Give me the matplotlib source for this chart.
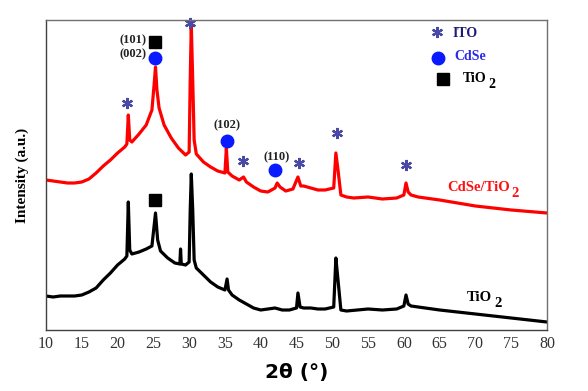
import matplotlib
matplotlib.use("Agg")
import matplotlib.pyplot as plt
from matplotlib.transforms import offset_copy

# ---- data (2theta in degrees, intensity in arbitrary units) ----
red_x = [10, 11, 12, 13, 14, 15, 16, 17, 18, 19, 20, 21, 21.3, 21.5, 21.7, 22, 23, 24, 24.8, 25.1,
         25.3, 25.5, 25.8, 26.5, 27.5, 28.5, 29.5, 30.0, 30.15, 30.3, 30.5, 30.7, 31, 32, 33, 34,
         35.0, 35.2, 35.4, 36, 37, 37.6, 38, 39, 40, 41, 42, 42.3, 42.7, 43.5, 44.5, 45.2, 45.6, 46,
         47, 48, 49, 50.2, 50.5, 50.8, 51.2, 52, 53, 55, 57, 59, 60, 60.3, 60.6, 61, 62, 65, 70, 75, 80]
red_y = [150, 149, 148, 147, 147, 148, 151, 157, 164, 170, 177, 183, 186, 215, 190, 188, 196, 205, 220, 245,
         263, 240, 222, 205, 192, 182, 175, 178, 250, 305, 250, 190, 176, 168, 163, 159,
         157, 182, 158, 154, 150, 153, 148, 143, 139, 138, 142, 147, 143, 139, 141, 153, 144, 144,
         142, 140, 140, 142, 177, 160, 135, 133, 132, 133, 131, 132, 135, 147, 138, 135, 133, 130, 124, 120, 117]

black_x = [10, 11, 12, 13, 14, 15, 16, 17, 18, 19, 20, 21, 21.3, 21.5, 21.7, 22, 23, 24, 24.8, 25.3,
           25.6, 26, 27, 28, 28.7, 28.8, 28.9, 29.5, 30.0, 30.15, 30.3, 30.5, 30.7, 31, 32, 33, 34,
           35, 35.3, 35.5, 36, 37, 38, 39, 40, 41, 42, 43, 44, 45, 45.2, 45.5, 46, 47, 48, 49,
           50.2, 50.5, 50.8, 51.2, 52, 55, 57, 59, 60, 60.3, 60.6, 61, 62, 65, 70, 75, 80]
black_y = [34, 33, 34, 34, 34, 35, 38, 42, 50, 57, 65, 71, 74, 128, 80, 76, 78, 81, 84, 117,
           90, 79, 72, 67, 66, 81, 66, 65, 68, 120, 156, 120, 70, 62, 55, 48, 43,
           40, 51, 40, 35, 30, 26, 22, 20, 21, 22, 20, 20, 22, 37, 23, 22, 22, 21, 21,
           23, 72, 50, 20, 19, 21, 20, 21, 24, 35, 26, 24, 23, 20, 16, 12, 8]

x_ticks = [10, 15, 20, 25, 30, 35, 40, 45, 50, 55, 60, 65, 70, 75, 80]

ito_x = [21.3, 30.1, 37.5, 45.35, 50.66, 60.3]
ito_y = [227, 307, 169, 167, 197, 165]
cdse_x = [25.23, 35.29, 42.0]
cdse_y = [272, 189, 160]
tio2_x = [25.23, 25.23]
tio2_y = [288, 130]

fig = plt.figure(figsize=(5.88, 3.91), dpi=100)
ax = fig.add_axes([46 / 588, 61 / 391, 501 / 588, 310 / 391])

ax.plot(red_x, red_y, color='#ff0000', lw=2.3)
ax.plot(black_x, black_y, color='#000000', lw=2.3)

ito_col = '#4a4aa6'
ax.plot(ito_x, ito_y, ls='none', marker=(6, 2, 0), ms=8, mew=1.6, color=ito_col, clip_on=False)
ax.plot(cdse_x, cdse_y, ls='none', marker='o', ms=9, color='#0a1aff', clip_on=False)
ax.plot(tio2_x, tio2_y, ls='none', marker='s', ms=9, color='#000000', clip_on=False)

serif_b = dict(family='Liberation Serif', weight='bold')
ax.text(24.0, 290, '(101)', ha='right', va='center', fontsize=9, color='#222222', **serif_b)
ax.text(24.1, 276, '(002)', ha='right', va='center', fontsize=9, color='#222222', **serif_b)
ax.text(35.29, 205, '(102)', ha='center', va='center', fontsize=9, color='#222222', **serif_b)
ax.text(42.28, 173, '(110)', ha='center', va='center', fontsize=9, color='#222222', **serif_b)

renderer = fig.canvas.get_renderer()


def text_sub(x, y, main, sub, fontsize, color):
    t = ax.text(x, y, main, ha='left', va='baseline', fontsize=fontsize, color=color, **serif_b)
    bb = t.get_window_extent(renderer=renderer)
    x0, _ = ax.transData.transform((x, y))
    dx = bb.x1 - x0 + 2
    tr = offset_copy(ax.transData, fig=fig, x=dx, y=-6, units='dots')
    ax.text(x, y, sub, ha='left', va='baseline', fontsize=fontsize, color=color,
            transform=tr, **serif_b)


# legend-like annotations
ax.plot([64.63], [298], ls='none', marker=(6, 2, 0), ms=8, mew=1.6, color=ito_col)
ax.text(66.87, 293, 'ITO', ha='left', va='baseline', fontsize=10, color='#1c1c78', **serif_b)
ax.plot([64.77], [272], ls='none', marker='o', ms=9, color='#0a1aff')
ax.text(67.0, 270, 'CdSe', ha='left', va='baseline', fontsize=10, color='#2a2ae6', **serif_b)
ax.plot([65.47], [251], ls='none', marker='s', ms=8, color='#000000')
text_sub(68.2, 248, 'TiO', '2', 10, '#000000')

text_sub(66.03, 139, 'CdSe/TiO', '2', 10.5, '#ff1010')
text_sub(68.82, 29, 'TiO', '2', 10.5, '#000000')

ax.set_xlim(10, 80)
ax.set_ylim(0, 310)
ax.set_xticks(x_ticks)
ax.set_xticklabels([str(t) for t in x_ticks], family='Liberation Serif', fontsize=11.5, color='#333333')
ax.set_yticks([])
ax.tick_params(axis='x', length=0, pad=4)

for s in ['top', 'right']:
    ax.spines[s].set_color('#707070')
for s in ['left', 'bottom']:
    ax.spines[s].set_color('#404040')
for s in ax.spines.values():
    s.set_linewidth(1.0)

ax.set_xlabel('2θ (°)', family='DejaVu Sans', weight='bold', fontsize=14.5, labelpad=8)
ax.set_ylabel('Intensity (a.u.)', family='Liberation Serif', weight='bold', fontsize=11, labelpad=12)

fig.savefig('out.png', dpi=100)
